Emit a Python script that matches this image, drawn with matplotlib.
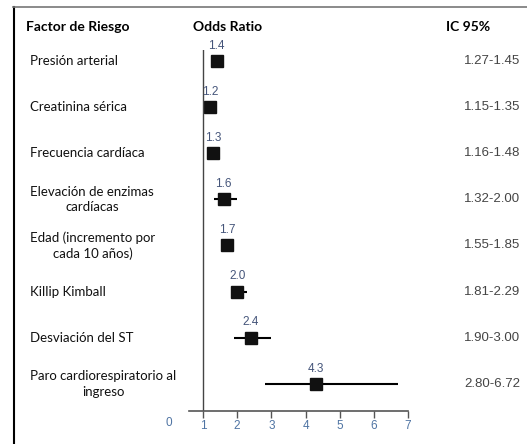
import matplotlib.pyplot as plt
from matplotlib.transforms import blended_transform_factory

factores = ["Presión arterial", "Creatinina sérica", "Frecuencia cardíaca",
            "Elevación de enzimas\ncardíacas", "Edad (incremento por\ncada 10 años)",
            "Killip Kimball", "Desviación del ST", "Paro cardiorespiratorio al\ningreso"]
odds = [1.4, 1.2, 1.3, 1.6, 1.7, 2.0, 2.4, 4.3]
ic_bajo = [1.27, 1.15, 1.16, 1.32, 1.55, 1.81, 1.90, 2.80]
ic_alto = [1.45, 1.35, 1.48, 2.00, 1.85, 2.29, 3.00, 6.72]
ticks = [1, 2, 3, 4, 5, 6, 7]

fig = plt.figure(figsize=(5.27, 4.44), dpi=100)
ax = fig.add_axes([189 / 527, 33 / 444, 219 / 527, 361 / 444])

filas = list(range(len(factores)))
for i in filas:
    ax.plot([ic_bajo[i], ic_alto[i]], [i, i], color="black", lw=1.5, solid_capstyle="butt")
ax.plot(odds, filas, "s", color="#111111", markersize=9)
for i in filas:
    ax.text(odds[i], i - 0.2, f"{odds[i]:.1f}", ha="center", va="bottom",
            fontsize=8.5, color="#45557a", family="Liberation Sans")

ax.axvline(1, ymin=0, ymax=1, color="#444444", lw=1)
ax.set_xlim(0.59, 7.0)
ax.set_ylim(7.59, -0.24)
for s in ["top", "right", "left"]:
    ax.spines[s].set_visible(False)
ax.spines["bottom"].set_color("#555555")
ax.spines["bottom"].set_linewidth(1.2)
ax.set_yticks([])
ax.set_xticks(ticks)
ax.tick_params(axis="x", length=5, width=1, color="#555555", pad=1.5,
               labelsize=8.5, labelcolor="#4f74a3")
for lb in ax.get_xticklabels():
    lb.set_family("Liberation Sans")
ax.text(0, -0.017, "0", transform=blended_transform_factory(ax.transData, ax.transAxes),
        ha="center", va="top", fontsize=8.5, color="#4f74a3", family="Liberation Sans")

# columnas de texto
tr = blended_transform_factory(fig.transFigure, ax.transData)
for i in filas:
    ax.text(30 / 527, i, factores[i], transform=tr, ha="left", va="center",
            multialignment="center", fontsize=9.5, family="Lato", color="#111111",
            linespacing=1.35, clip_on=False)
    ax.text(520 / 527, i, f"{ic_bajo[i]:.2f}-{ic_alto[i]:.2f}", transform=tr,
            ha="right", va="center", fontsize=9.5, family="Liberation Sans",
            color="#444444", clip_on=False)

fig.text(26 / 527, 1 - 27 / 444, "Factor de Riesgo", ha="left", va="center",
         fontsize=10, fontweight="bold", family="Lato")
fig.text(228 / 527, 1 - 27 / 444, "Odds Ratio", ha="center", va="center",
         fontsize=10, fontweight="bold", family="Lato")
fig.text(468 / 527, 1 - 27 / 444, "IC 95%", ha="center", va="center",
         fontsize=10, fontweight="bold", family="Lato")

# marco
fig.add_artist(plt.Line2D([13.5 / 527, 13.5 / 527], [0, 1 - 7 / 444], color="black", lw=1.5))
fig.add_artist(plt.Line2D([13 / 527, 1], [1 - 7.5 / 444, 1 - 7.5 / 444], color="#777777", lw=1.2))

fig.savefig("out.png", dpi=100)
